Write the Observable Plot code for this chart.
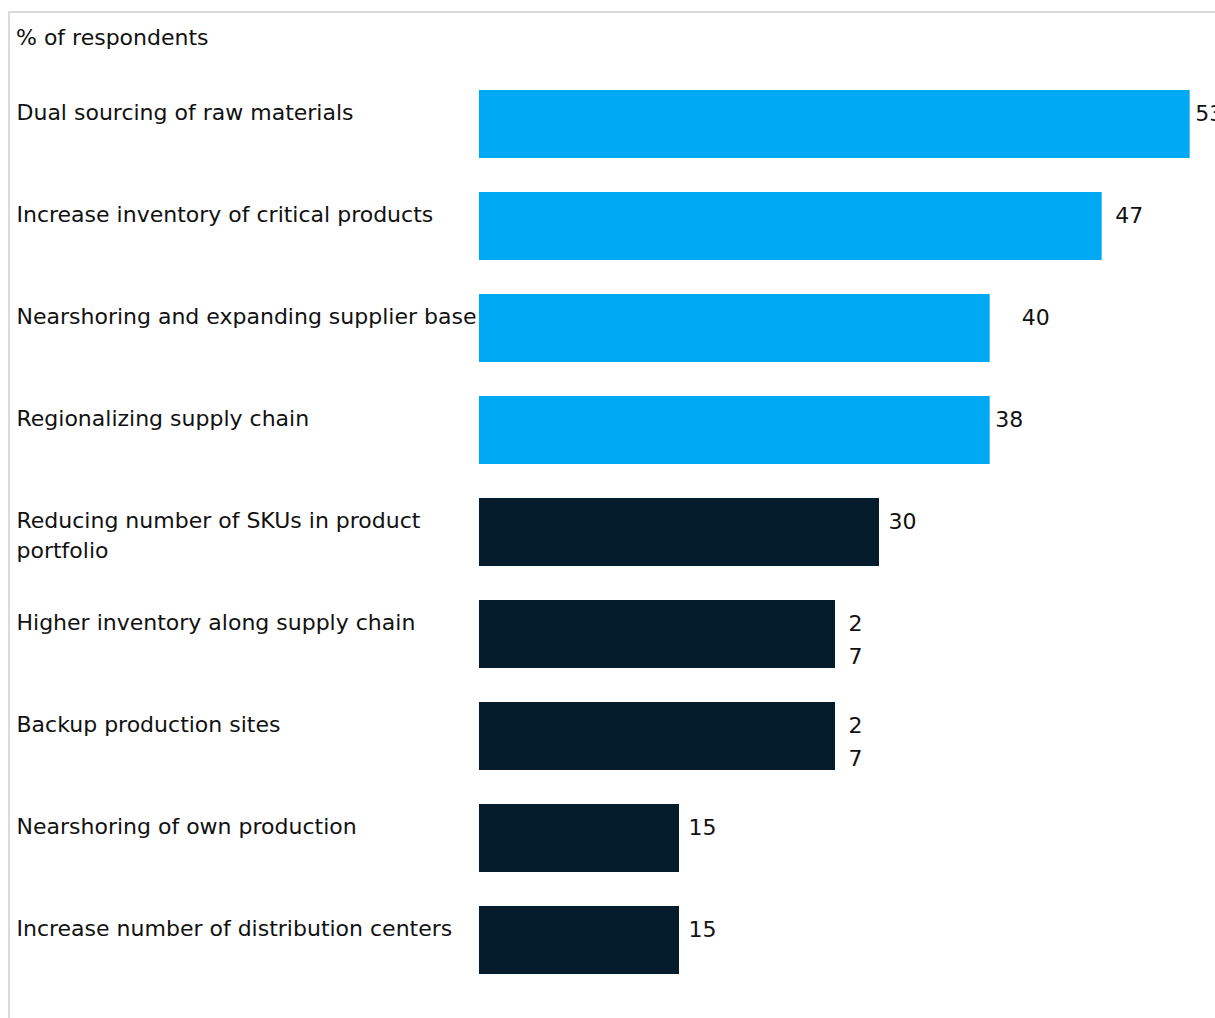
<!DOCTYPE html>
<html>
<head>
<meta charset="utf-8">
<script src="https://cdn.jsdelivr.net/npm/d3@7"></script>
<script src="https://cdn.jsdelivr.net/npm/@observablehq/plot@0.6"></script>
<style>
  html, body { margin: 0; padding: 0; width: 1215px; height: 1018px; overflow: hidden; background: #fff; }
  body { position: relative; font-family: "DejaVu Sans", sans-serif; }
  .frame { position: absolute; left: 8px; top: 11px; width: 1300px; height: 1100px;
           border-left: 2px solid #dadada; border-top: 2px solid #dadada; }
  .title { position: absolute; left: 16px; top: 25px; font-size: 22px; color: #111; white-space: nowrap; }
  #chart { position: absolute; left: 0; top: 0; width: 1240px; }
  #chart svg { max-width: none !important; }
</style>
</head>
<body>
<div class="frame"></div>
<div class="title">% of respondents</div>
<div id="chart"></div>
<script>
const categories = [
  "Dual sourcing of raw materials",
  "Increase inventory of critical products",
  "Nearshoring and expanding supplier base",
  "Regionalizing supply chain",
  "Reducing number of SKUs in product portfolio",
  "Higher inventory along supply chain",
  "Backup production sites",
  "Nearshoring of own production",
  "Increase number of distribution centers"
];
const categoryText = [
  "Dual sourcing of raw materials",
  "Increase inventory of critical products",
  "Nearshoring and expanding supplier base",
  "Regionalizing supply chain",
  "Reducing number of SKUs in product\nportfolio",
  "Higher inventory along supply chain",
  "Backup production sites",
  "Nearshoring of own production",
  "Increase number of distribution centers"
];
const barValues = [53.3, 46.7, 38.3, 38.3, 30, 26.7, 26.7, 15, 15];
const labelValues = [53, 47, 40, 38, 30, 27, 27, 15, 15];
const labelText = ["53", "47", "40", "38", "30", "2\n7", "2\n7", "15", "15"];
const groups = ["top", "top", "top", "top", "other", "other", "other", "other", "other"];

const data = categories.map((c, i) => ({
  category: c, text: categoryText[i], bar: barValues[i],
  value: labelValues[i], label: labelText[i], group: groups[i]
}));

const font = "DejaVu Sans, sans-serif";

const chart = Plot.plot({
  width: 1240,
  height: 1018,
  marginLeft: 479,
  marginRight: 1,
  marginTop: 71,
  marginBottom: 25,
  style: { fontFamily: font, fontSize: "22px", color: "#111", background: "transparent", overflow: "visible", maxWidth: "none" },
  x: { domain: [0, 57], axis: null },
  y: { domain: categories, axis: null, paddingInner: 0.337, paddingOuter: 0.1685 },
  color: { domain: ["top", "other"], range: ["#00A9F4", "#051C2C"] },
  marks: [
    Plot.barX(data, { y: "category", x: "bar", fill: "group" }),
    Plot.text(data, {
      y: "category", text: "text", frameAnchor: "left", textAnchor: "start",
      dx: -463, dy: -26, lineAnchor: "top", lineHeight: 1.36, fill: "#111", fontSize: 22
    }),
    Plot.text(data, {
      y: "category", x: "value", text: "label", textAnchor: "start",
      dx: 9, dy: -27, lineAnchor: "top", lineHeight: 1.5, fill: "#111", fontSize: 22
    })
  ]
});
document.getElementById("chart").appendChild(chart);
</script>
</body>
</html>
